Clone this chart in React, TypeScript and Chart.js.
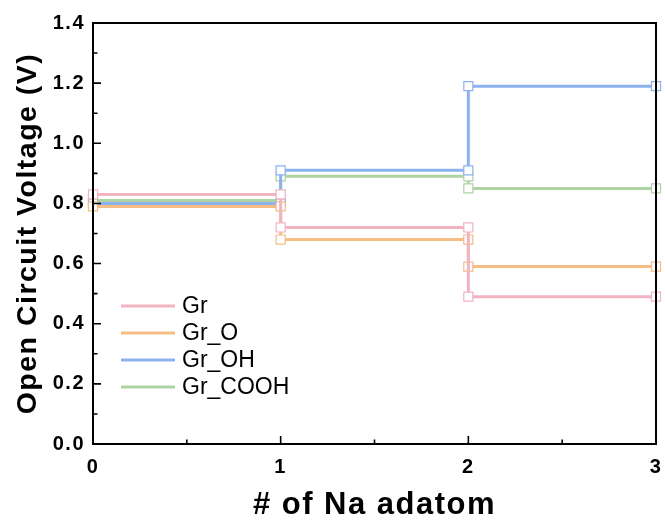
import React, { useEffect, useRef } from 'react';
import { Chart, registerables } from 'chart.js';

Chart.register(...registerables);

// ---- data ----
const xCategories = [0, 1, 2, 3];
const seriesNames = ['Gr', 'Gr_O', 'Gr_OH', 'Gr_COOH'];
const grValues = [0.83, 0.72, 0.49];
const grOValues = [0.79, 0.68, 0.59];
const grOHValues = [0.8, 0.91, 1.19];
const grCOOHValues = [0.81, 0.89, 0.85];
const seriesColors = ['#F2B3C2', '#F3BD84', '#8BB2EF', '#ADD3A5'];
const yMin = 0;
const yMax = 1.4;
const yStep = 0.2;
const xTitle = '# of Na adatom';
const yTitle = 'Open Circuit Voltage (V)';

const FONT = '"Liberation Sans", Arial, Helvetica, sans-serif';

function stepPoints(values: number[]) {
  const pts: { x: number; y: number }[] = [];
  values.forEach((v, i) => {
    pts.push({ x: xCategories[i], y: v });
    pts.push({ x: xCategories[i + 1], y: v });
  });
  return pts;
}

const allValues = [grValues, grOValues, grOHValues, grCOOHValues];

const spacingPlugin = {
  id: 'spacing',
  beforeDraw(chart: any) {
    chart.ctx.letterSpacing = '1.5px';
  },
  afterDraw(chart: any) {
    chart.ctx.letterSpacing = '0px';
  },
};

const framePlugin = {
  id: 'frame',
  afterDatasetsDraw(chart: any) {
    const { ctx, chartArea, scales } = chart;
    const { left, right, top, bottom } = chartArea;
    ctx.save();
    ctx.strokeStyle = '#000';
    ctx.lineWidth = 2;
    ctx.beginPath();
    ctx.rect(left, top, right - left, bottom - top);
    ctx.stroke();
    ctx.lineWidth = 1.6;
    const yt = scales.y.ticks.map((t: any) => t.value);
    ctx.beginPath();
    yt.forEach((v: number, i: number) => {
      const p = scales.y.getPixelForValue(v);
      ctx.moveTo(left, p);
      ctx.lineTo(left + 8, p);
      if (i < yt.length - 1) {
        const m = scales.y.getPixelForValue((v + yt[i + 1]) / 2);
        ctx.moveTo(left, m);
        ctx.lineTo(left + 4.5, m);
      }
    });
    const xt = scales.x.ticks.map((t: any) => t.value);
    xt.forEach((v: number, i: number) => {
      const p = scales.x.getPixelForValue(v);
      ctx.moveTo(p, bottom);
      ctx.lineTo(p, bottom - 8);
      if (i < xt.length - 1) {
        const m = scales.x.getPixelForValue((v + xt[i + 1]) / 2);
        ctx.moveTo(m, bottom);
        ctx.lineTo(m, bottom - 4.5);
      }
    });
    ctx.stroke();
    ctx.restore();
  },
};

const legendPlugin = {
  id: 'customLegend',
  afterDraw(chart: any) {
    const { ctx } = chart;
    ctx.save();
    ctx.letterSpacing = '0px';
    ctx.font = `23px ${FONT}`;
    ctx.textBaseline = 'middle';
    ctx.textAlign = 'left';
    chart.data.datasets.forEach((ds: any, i: number) => {
      const y = 306 + i * 27;
      ctx.strokeStyle = ds.borderColor;
      ctx.lineWidth = 3;
      ctx.beginPath();
      ctx.moveTo(121, y);
      ctx.lineTo(175, y);
      ctx.stroke();
      ctx.fillStyle = '#000';
      ctx.fillText(ds.label, 182, y + 1);
    });
    ctx.restore();
  },
};

export default function App() {
  const ref = useRef<HTMLCanvasElement | null>(null);
  useEffect(() => {
    if (!ref.current) return;
    const chart = new Chart(ref.current, {
      type: 'line',
      data: {
        datasets: seriesNames.map((name, i) => ({
          label: name,
          data: stepPoints(allValues[i]),
          borderColor: seriesColors[i],
          backgroundColor: '#ffffff',
          borderWidth: 3,
          pointStyle: 'rect',
          pointRadius: 6.4,
          pointBorderWidth: 1.2,
          pointBorderColor: seriesColors[i],
          pointBackgroundColor: '#ffffff',
          fill: false,
          tension: 0,
          clip: false as any,
        })),
      },
      options: {
        animation: false,
        responsive: false,
        devicePixelRatio: 1,
        layout: { padding: { left: 0, top: 23, right: 9, bottom: 0 } },
        plugins: { legend: { display: false }, tooltip: { enabled: false } },
        scales: {
          x: {
            type: 'linear',
            min: xCategories[0],
            max: xCategories[xCategories.length - 1],
            grid: { display: false, drawTicks: false },
            border: { display: false },
            ticks: {
              stepSize: 1,
              padding: 11,
              color: '#000',
              font: { family: FONT, size: 20, weight: 'bold' },
              maxRotation: 0,
            },
            title: {
              display: true,
              text: xTitle,
              color: '#000',
              font: { family: FONT, size: 31, weight: 'bold' },
              padding: { top: 0, bottom: 1 },
            },
            afterFit(scale: any) {
              scale.height = 81;
              scale.paddingLeft = 0;
              scale.paddingRight = 0;
            },
          },
          y: {
            type: 'linear',
            min: yMin,
            max: yMax,
            grid: { display: false, drawTicks: false },
            border: { display: false },
            ticks: {
              stepSize: yStep,
              padding: 8,
              color: '#000',
              font: { family: FONT, size: 20, weight: 'bold' },
              callback: (v: any) => Number(v).toFixed(1),
            },
            title: {
              display: true,
              text: yTitle,
              color: '#000',
              font: { family: FONT, size: 28.5, weight: 'bold' },
              padding: { top: 11, bottom: 0 },
            },
            afterFit(scale: any) {
              scale.width = 93;
              scale.paddingTop = 0;
              scale.paddingBottom = 0;
            },
          },
        },
      } as any,
      plugins: [spacingPlugin, framePlugin, legendPlugin],
    });
    return () => chart.destroy();
  }, []);
  return (
    <div style={{ position: 'absolute', left: 0, top: 0, width: 665, height: 525, background: '#fff' }}>
      <canvas ref={ref} width={665} height={525} />
    </div>
  );
}
